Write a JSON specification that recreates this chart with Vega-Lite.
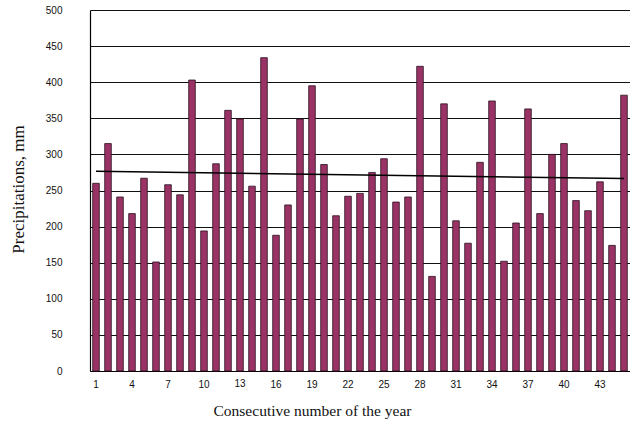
{
  "$schema": "https://vega.github.io/schema/vega-lite/v6.json",
  "width": 540,
  "height": 361,
  "autosize": "none",
  "padding": {"left": 90, "top": 10, "right": 0, "bottom": 51},
  "background": "white",
  "config": {"view": {"stroke": null}, "axis": {"labelOverlap": false, "labelFlush": false}},
  "datasets": {
    "bars": [
      {"year": 1, "mm": 260}, {"year": 2, "mm": 315}, {"year": 3, "mm": 241}, {"year": 4, "mm": 218},
      {"year": 5, "mm": 267}, {"year": 6, "mm": 151}, {"year": 7, "mm": 258}, {"year": 8, "mm": 244},
      {"year": 9, "mm": 403}, {"year": 10, "mm": 194}, {"year": 11, "mm": 287}, {"year": 12, "mm": 361},
      {"year": 13, "mm": 349}, {"year": 14, "mm": 256}, {"year": 15, "mm": 434}, {"year": 16, "mm": 188},
      {"year": 17, "mm": 230}, {"year": 18, "mm": 349}, {"year": 19, "mm": 395}, {"year": 20, "mm": 286},
      {"year": 21, "mm": 215}, {"year": 22, "mm": 242}, {"year": 23, "mm": 246}, {"year": 24, "mm": 275},
      {"year": 25, "mm": 294}, {"year": 26, "mm": 234}, {"year": 27, "mm": 241}, {"year": 28, "mm": 422},
      {"year": 29, "mm": 131}, {"year": 30, "mm": 370}, {"year": 31, "mm": 208}, {"year": 32, "mm": 177},
      {"year": 33, "mm": 289}, {"year": 34, "mm": 374}, {"year": 35, "mm": 152}, {"year": 36, "mm": 205},
      {"year": 37, "mm": 363}, {"year": 38, "mm": 218}, {"year": 39, "mm": 300}, {"year": 40, "mm": 315},
      {"year": 41, "mm": 236}, {"year": 42, "mm": 222}, {"year": 43, "mm": 262}, {"year": 44, "mm": 174},
      {"year": 45, "mm": 382}
    ],
    "trend": [
      {"year": 1, "mm": 276.5},
      {"year": 45, "mm": 266.5}
    ]
  },
  "encoding": {
    "x": {
      "field": "year", "type": "ordinal",
      "scale": {"domain": [1,2,3,4,5,6,7,8,9,10,11,12,13,14,15,16,17,18,19,20,21,22,23,24,25,26,27,28,29,30,31,32,33,34,35,36,37,38,39,40,41,42,43,44,45], "paddingInner": 0.45, "paddingOuter": 0.225},
      "axis": {
        "values": [1, 4, 7, 10, 13, 16, 19, 22, 25, 28, 31, 34, 37, 40, 43],
        "labelExpr": "datum.value == 13 ? '' : datum.label",
        "labelAngle": 0,
        "labelOverlap": false,
        "labelFont": "Arial", "labelFontSize": 10, "labelColor": "#111",
        "labelPadding": 8,
        "ticks": false,
        "domainColor": "#000", "domainWidth": 1.2,
        "grid": false,
        "title": "Consecutive number of the year",
        "titleFont": "Liberation Serif", "titleFontSize": 15.5, "titleFontWeight": "normal",
        "titleColor": "#111",
        "titleX": 222, "titleY": 39, "titleAlign": "center", "titleBaseline": "middle"
      }
    },
    "y": {
      "field": "mm", "type": "quantitative",
      "scale": {"domain": [0, 500], "nice": false},
      "axis": {
        "values": [0, 50, 100, 150, 200, 250, 300, 350, 400, 450, 500],
        "labelOverlap": false,
        "labelFont": "Arial", "labelFontSize": 10, "labelColor": "#111",
        "labelPadding": 28,
        "ticks": false,
        "domainColor": "#000", "domainWidth": 1.2,
        "grid": true, "gridColor": "#111", "gridWidth": 1, "gridOpacity": 1,
        "title": "Precipitations, mm",
        "titleFont": "Liberation Serif", "titleFontSize": 17, "titleFontWeight": "normal",
        "titleColor": "#111",
        "titleX": -72, "titleY": 179, "titleAlign": "center", "titleBaseline": "middle", "titleAngle": -90
      }
    }
  },
  "layer": [
    {
      "data": {"name": "bars"},
      "mark": {"type": "bar", "color": "#993366", "stroke": "#2a1020", "strokeWidth": 0.8}
    },
    {
      "data": {"name": "trend"},
      "mark": {"type": "line", "color": "#000", "strokeWidth": 1.5}
    },
    {
      "data": {"values": [{"year": 13, "mm": 0}]},
      "mark": {"type": "text", "dy": 8, "font": "Arial", "fontSize": 10, "color": "#111", "baseline": "top"},
      "encoding": {"text": {"field": "year", "type": "ordinal"}}
    }
  ]
}
